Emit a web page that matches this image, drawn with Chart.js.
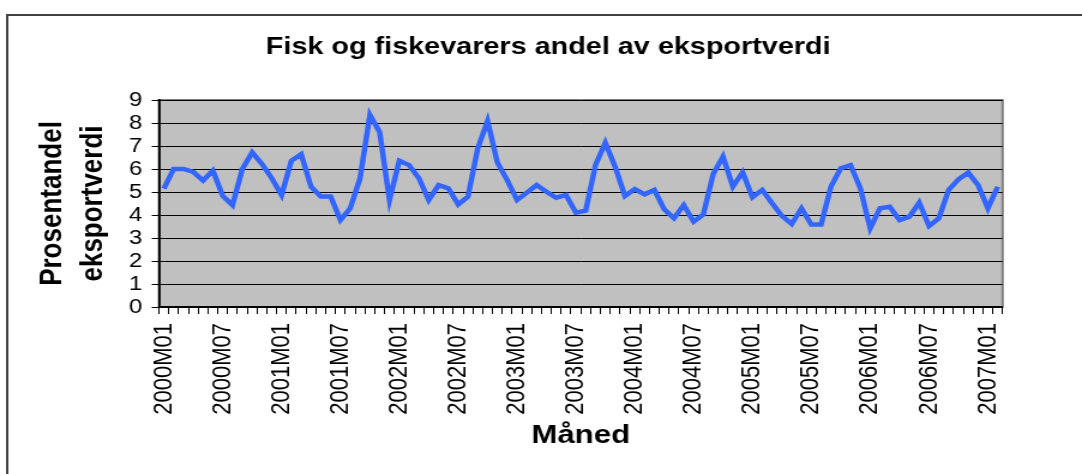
<!DOCTYPE html>
<html>
<head>
<meta charset="utf-8">
<script src="https://cdn.jsdelivr.net/npm/chart.js@4"></script>
<style>
  body { margin: 0; background: #fff; }
</style>
</head>
<body>
<canvas id="chart" width="902" height="474" style="width:1082px;height:474px"></canvas>
<script>
// monthly share (%) of export value
const v2000 = [5.15, 6.0, 6.0, 5.87, 5.5, 5.93, 4.83, 4.43, 6.0, 6.72, 6.22, 5.6];
const v2001 = [4.87, 6.36, 6.64, 5.23, 4.8, 4.8, 3.78, 4.29, 5.6, 8.35, 7.6, 4.65];
const v2002 = [6.36, 6.17, 5.6, 4.65, 5.3, 5.16, 4.46, 4.8, 6.9, 8.09, 6.28, 5.52];
const v2003 = [4.65, 4.97, 5.3, 5.01, 4.75, 4.87, 4.1, 4.19, 6.17, 7.14, 6.1, 4.83];
const v2004 = [5.13, 4.9, 5.09, 4.25, 3.86, 4.43, 3.71, 4.03, 5.78, 6.54, 5.23, 5.86];
const v2005 = [4.77, 5.09, 4.51, 3.96, 3.61, 4.29, 3.59, 3.59, 5.23, 6.03, 6.17, 5.16];
const v2006 = [3.42, 4.29, 4.36, 3.78, 3.93, 4.54, 3.52, 3.86, 5.09, 5.55, 5.84, 5.3];
const v2007 = [4.29, 5.23];

const years = [2000, 2001, 2002, 2003, 2004, 2005, 2006, 2007];
const monthCodes = ["M01", "M02", "M03", "M04", "M05", "M06", "M07", "M08", "M09", "M10", "M11", "M12"];
const yTicks = [0, 1, 2, 3, 4, 5, 6, 7, 8, 9];

const values = [].concat(v2000, v2001, v2002, v2003, v2004, v2005, v2006, v2007);
const labels = [];
years.forEach(y => monthCodes.forEach(m => labels.push(y + m)));
labels.length = values.length;

const FONT = "'Liberation Sans', Arial, sans-serif";

// grey plot area + outer frame like the excel export
const frame = {
  id: "frame",
  beforeDraw(chart) {
    const { ctx, chartArea: a } = chart;
    ctx.save();
    ctx.fillStyle = "#c0c0c0";
    ctx.fillRect(a.left, a.top, a.right - a.left, a.bottom - a.top);
    ctx.strokeStyle = "#808080";
    ctx.lineWidth = 2;
    ctx.strokeRect(a.left, a.top, a.right - a.left, a.bottom - a.top);
    ctx.strokeStyle = "#404040";
    ctx.lineWidth = 2;
    ctx.beginPath();
    ctx.moveTo(6, 480);
    ctx.lineTo(6, 15);
    ctx.lineTo(910, 15);
    ctx.stroke();
    ctx.restore();
  }
};

new Chart(document.getElementById("chart"), {
  type: "line",
  data: {
    labels: labels,
    datasets: [{
      data: values,
      borderColor: "#3366ff",
      borderWidth: 4.5,
      pointRadius: 0,
      tension: 0,
      yAxisID: "y"
    }]
  },
  options: {
    responsive: false,
    devicePixelRatio: 1,
    animation: false,
    layout: { padding: { left: 12, right: 0, top: 0, bottom: 22.6 } },
    plugins: {
      legend: { display: false },
      tooltip: { enabled: false },
      title: {
        display: true,
        text: "Fisk og fiskevarers andel av eksportverdi",
        color: "#000",
        font: { family: FONT, size: 24, weight: "bold", lineHeight: 1.2 },
        padding: { top: 32.6, bottom: 38.6 }
      }
    },
    scales: {
      x: {
        type: "category",
        offset: true,
        grid: { offset: true, drawOnChartArea: false, drawTicks: true, tickLength: 7, color: "#000" },
        border: { color: "#000", width: 1.5 },
        ticks: {
          autoSkip: false,
          minRotation: 90,
          maxRotation: 90,
          padding: 9,
          color: "#000",
          font: { family: FONT, size: 22 },
          callback: function (value, index) {
            return index % 6 === 0 ? this.getLabelForValue(value) : "";
          }
        },
        title: {
          display: true,
          text: "Måned",
          color: "#000",
          font: { family: FONT, size: 26, weight: "bold", lineHeight: 1.2 },
          padding: { top: 0, bottom: 0 }
        },
        afterFit: s => { s.height = 144.4; }
      },
      y: {
        min: 0,
        max: 9,
        afterBuildTicks: s => { s.ticks = yTicks.map(v => ({ value: v })); },
        grid: { color: "#000", lineWidth: 1, tickLength: 6 },
        border: { color: "#000", width: 1.8 },
        ticks: { autoSkip: false, padding: 8, color: "#000", font: { family: FONT, size: 20 } },
        title: {
          display: true,
          text: ["Prosentandel", "eksportverdi"],
          color: "#000",
          font: { family: FONT, size: 26, weight: "bold", lineHeight: 1.29 },
          padding: { top: 15.25, bottom: 0 }
        },
        afterFit: s => { s.width = 120.5; }
      },
      yRight: {
        position: "right",
        display: true,
        grid: { display: false, drawTicks: false },
        border: { display: false },
        ticks: { display: false },
        afterFit: s => { s.width = 66.2; }
      }
    }
  },
  plugins: [frame]
});
</script>
</body>
</html>
